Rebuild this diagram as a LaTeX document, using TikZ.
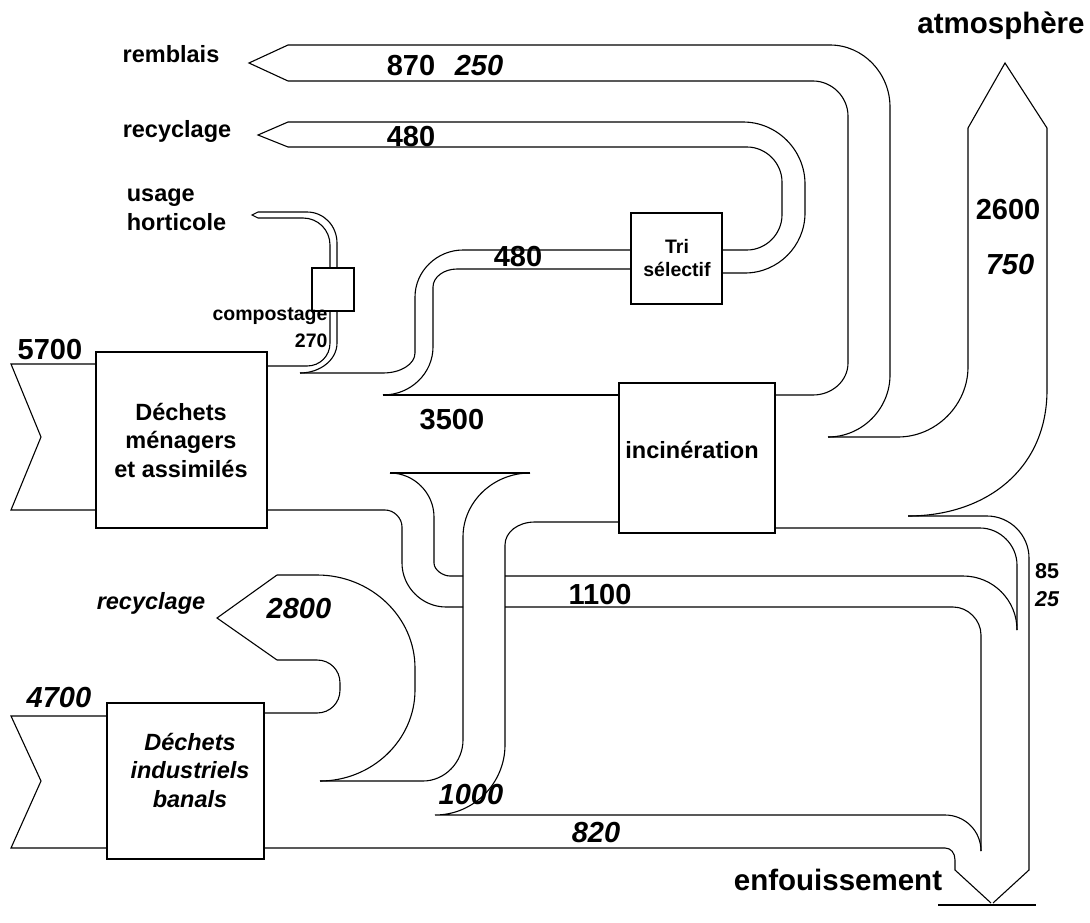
\documentclass[tikz,border=0pt]{standalone}
\usepackage{fontspec}
\setmainfont{Liberation Sans}
\begin{document}
\begin{tikzpicture}[x=1pt,y=-1pt,line width=1.1pt,line join=miter,
  box/.style={draw,fill=white,inner sep=0pt,outer sep=0pt},
  lbl/.style={inner sep=0pt,font=\bfseries\fontsize{23.5}{28.5}\selectfont,align=center},
  ilbl/.style={inner sep=0pt,font=\bfseries\itshape\fontsize{23.5}{28.5}\selectfont,align=center},
  num/.style={inner sep=0pt,font=\bfseries\fontsize{29}{30}\selectfont},
  inum/.style={inner sep=0pt,font=\bfseries\itshape\fontsize{29}{30}\selectfont},
  small/.style={inner sep=0pt,font=\bfseries\fontsize{19.5}{23}\selectfont,align=center}]
\useasboundingbox (0,0) rectangle (1090,923);

% ---------------- boxes ----------------
\node[box,minimum width=171pt,minimum height=176pt] (men) at (181.5,440) {};
\node[box,minimum width=157pt,minimum height=156pt] (ind) at (185.5,781) {};
\node[box,minimum width=156pt,minimum height=150pt] (inc) at (697,458) {};
\node[box,minimum width=91pt,minimum height=91pt] (tri) at (676.5,258.5) {};
\node[box,minimum width=42pt,minimum height=43pt] (comp) at (333,289.5) {};

% ---------------- remblais band ----------------
\draw (288,45) -- (249,63) -- (288,81);
\draw (288,45) -- (830,45) .. controls (863,45) and (890,73) .. (890,107) -- (890,375)
      .. controls (890,409) and (862,437) .. (828,437);
\draw (288,81) -- (813,81) .. controls (832,81) and (848,97) .. (848,116) -- (848,363)
      .. controls (848,381) and (832,395) .. (813,395) -- (775,395);

% ---------------- recyclage band (480) ----------------
\draw (288,122) -- (258,135) -- (288,147);
\draw (288,122) -- (743,122) .. controls (777,122) and (805,150) .. (805,184) -- (805,213)
      .. controls (805,246) and (778,273) .. (745,273) -- (722,273);
\draw (288,147) -- (747,147) .. controls (766,147) and (782,163) .. (782,182) -- (782,215)
      .. controls (782,234) and (766,250) .. (747,250) -- (722,250);

% ---------------- 480 band to tri ----------------
\draw (300,373) -- (383,373) .. controls (401,373) and (415,364) .. (415,353) -- (415,297)
      .. controls (415,271) and (437,250) .. (463,250) -- (631,250);
\draw (383,395) .. controls (411,395) and (433,373) .. (433,347) -- (433,287)
      .. controls (433,277) and (444,269) .. (457,269) -- (631,269);
\draw (383,395) -- (619,395);

% ---------------- compostage ----------------
\draw (267,366) -- (307,366) .. controls (320,366) and (330,356) .. (330,343) -- (330,311);
\draw (300,373) .. controls (320,373) and (337,360) .. (337,343) -- (337,311);
\draw (330,268) -- (330,245) .. controls (330,230) and (318,218) .. (303,218) -- (258,218)
      -- (252,215) -- (258,212) -- (307,212) .. controls (324,212) and (337,226) .. (337,243) -- (337,268);

% ---------------- menagers input ----------------
\draw (96,364) -- (11,364) -- (41,437) -- (11,510) -- (96,510);
\draw (267,510) -- (385,510) .. controls (394,510) and (402,518) .. (402,527) -- (402,563)
      .. controls (402,587) and (422,607) .. (446,607) -- (463,607);

% ---------------- funnel ----------------
\draw (390,473) -- (530,473);
\draw (390,473) .. controls (414,473) and (434,493) .. (434,517) -- (434,563)
      .. controls (434,570) and (443,576) .. (450,576) -- (463,576);
\draw (530,473) .. controls (493,473) and (463,502) .. (463,537) -- (463,740)
      .. controls (463,762) and (445,781) .. (423,781) -- (320,781);

% ---------------- 2800 recyclage ----------------
\draw (277,575) -- (217,618) -- (277,660);
\draw (277,575) -- (317,575) .. controls (371,575) and (415,617) .. (415,668) -- (415,690)
      .. controls (415,740) and (372,781) .. (320,781);
\draw (277,660) -- (317,660) .. controls (330,660) and (340,670) .. (340,683) -- (340,690)
      .. controls (340,703) and (330,713) .. (317,713) -- (264,713);

% ---------------- industrial input ----------------
\draw (107,716) -- (11,716) -- (41,781) -- (11,848) -- (107,848);

% ---------------- 1000 band ----------------
\draw (619,522) -- (535,522) .. controls (518,522) and (505,532) .. (505,545) -- (505,745)
      .. controls (505,783) and (474,815) .. (435,815) -- (945,815)
      .. controls (965,815) and (981,831) .. (981,851);

% ---------------- 1100 band ----------------
\draw (505,576) -- (963,576) .. controls (993,576) and (1017,600) .. (1017,630);
\draw (505,607) -- (953,607) .. controls (968,607) and (981,620) .. (981,635) -- (981,851);

% ---------------- 85 / 25 band ----------------
\draw (775,528) -- (980,528) .. controls (1000,528) and (1017,545) .. (1017,565) -- (1017,630);
\draw (908,516) -- (987,516) .. controls (1010,516) and (1029,535) .. (1029,558) -- (1029,870) -- (993,903);

% ---------------- enfouissement ----------------
\draw (264,848) -- (945,848) .. controls (951,848) and (955,853) .. (955,860) -- (955,870) -- (991,903);
\draw (938,905) -- (1036,905);

% ---------------- atmosphere ----------------
\draw (968,128) -- (1005,63) -- (1047,128);
\draw (968,128) -- (968,367) .. controls (968,405) and (936,437) .. (898,437) -- (828,437);
\draw (1047,128) -- (1047,390) .. controls (1047,470) and (985,516) .. (908,516);

% ---------------- texts ----------------
\node[lbl] (tremb) at (171,54) {remblais};
\node[lbl] (trec) at (177,131) {recyclage};
\node[lbl,align=left] (thort) at (176.5,210) {usage\\horticole};
\node[small] (tcomp) at (270,316) {compostage};
\node[small,anchor=east] (t270) at (328,341) {270};
\node[num] (t5700) at (50,350) {5700};
\node[lbl] (tmen) at (181,440) {Déchets\\ménagers\\et assimilés};
\node[num] (t3500) at (452,420) {3500};
\node[num] (t480a) at (411,137) {480};
\node[num] (t480b) at (518,257) {480};
\node[num] (t870) at (411,66) {870};
\node[inum] (t250) at (479,66) {250};
\node[small] (ttri) at (677,258) {Tri\\sélectif};
\node[lbl] (tinc) at (692,450) {incinération};
\node[num,font=\bfseries\fontsize{29.5}{30}\selectfont] (tatm) at (1001,26) {atmosphère};
\node[num] (t2600) at (1008,210) {2600};
\node[inum] (t750) at (1010,265) {750};
\node[num] (t1100) at (600,595) {1100};
\node[inner sep=0pt,font=\bfseries\fontsize{21.5}{22}\selectfont] (t85) at (1047,571) {85};
\node[inner sep=0pt,font=\bfseries\itshape\fontsize{21.5}{22}\selectfont] (t25) at (1047,599) {25};
\node[ilbl] (trec2) at (151,603) {recyclage};
\node[inum] (t2800) at (299,609) {2800};
\node[inum] (t4700) at (59,698) {4700};
\node[ilbl] (tind) at (190,770) {Déchets\\industriels\\banals};
\node[inum] (t1000) at (471,795) {1000};
\node[inum] (t820) at (596,833) {820};
\node[num,font=\bfseries\fontsize{29.5}{30}\selectfont] (tenf) at (838,880) {enfouissement};
\end{tikzpicture}
\end{document}
